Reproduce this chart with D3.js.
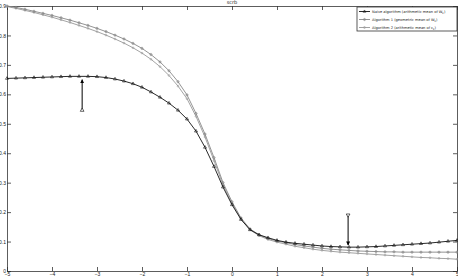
<!DOCTYPE html>
<html>
<head>
<meta charset="utf-8">
<script src="https://cdn.jsdelivr.net/npm/d3@7"></script>
<style>
  body { margin: 0; background: #fff; }
  svg { display: block; font-family: "DejaVu Sans", sans-serif; }
  .axis path, .axis line { stroke: #333; stroke-width: 0.8; }
  .axis text { font-size: 5px; fill: #222; }
</style>
</head>
<body>
<div id="chart"></div>
<script>
// sample positions along x
var xs = [-5, -4.8, -4.6, -4.4, -4.2, -4, -3.8, -3.6, -3.4, -3.2, -3, -2.8, -2.6, -2.4, -2.2, -2,
  -1.8, -1.6, -1.4, -1.2, -1, -0.8, -0.6, -0.4, -0.2, 0, 0.2, 0.4, 0.6, 0.8, 1, 1.2, 1.4, 1.6, 1.8, 2,
  2.2, 2.4, 2.6, 2.8, 3, 3.2, 3.4, 3.6, 3.8, 4, 4.2, 4.4, 4.6, 4.8, 5];

var naive = [0.654, 0.655, 0.656, 0.657, 0.658, 0.659, 0.660, 0.661, 0.661, 0.661, 0.660, 0.657, 0.652,
  0.645, 0.636, 0.624, 0.608, 0.590, 0.570, 0.546, 0.516, 0.475, 0.420, 0.355, 0.285, 0.225, 0.175,
  0.140, 0.123, 0.113, 0.104, 0.098, 0.094, 0.091, 0.088, 0.085, 0.083, 0.082, 0.081, 0.081, 0.082,
  0.083, 0.085, 0.087, 0.089, 0.091, 0.093, 0.095, 0.098, 0.101, 0.104];

var alg1 = [0.900, 0.895, 0.889, 0.882, 0.875, 0.868, 0.860, 0.852, 0.843, 0.834, 0.824, 0.813, 0.801,
  0.788, 0.773, 0.756, 0.735, 0.710, 0.680, 0.643, 0.598, 0.535, 0.465, 0.385, 0.300, 0.235, 0.180,
  0.143, 0.123, 0.110, 0.102, 0.096, 0.090, 0.085, 0.081, 0.077, 0.074, 0.072, 0.070, 0.068, 0.067,
  0.066, 0.065, 0.065, 0.064, 0.064, 0.064, 0.064, 0.064, 0.064, 0.064];

var alg2 = [0.898, 0.892, 0.885, 0.878, 0.870, 0.862, 0.853, 0.844, 0.834, 0.824, 0.813, 0.801, 0.788,
  0.774, 0.758, 0.740, 0.719, 0.694, 0.664, 0.628, 0.585, 0.525, 0.455, 0.375, 0.292, 0.230, 0.177,
  0.140, 0.120, 0.107, 0.098, 0.091, 0.084, 0.079, 0.074, 0.070, 0.067, 0.064, 0.062, 0.060, 0.058,
  0.056, 0.054, 0.052, 0.050, 0.048, 0.046, 0.045, 0.043, 0.042, 0.040];

var xTicks = [-5, -4, -3, -2, -1, 0, 1, 2, 3, 4, 5];
var yTicks = [0, 0.1, 0.2, 0.3, 0.4, 0.5, 0.6, 0.7, 0.8, 0.9];

// annotation arrows: [x, from, to]
var arrows = [[-3.33, 0.546, 0.650], [2.58, 0.19, 0.088]];

var W = 458, H = 277;
var svg = d3.select("#chart").append("svg").attr("width", W).attr("height", H);

var x = d3.scaleLinear().domain([-5, 5]).range([7, 457]);
var y = d3.scaleLinear().domain([0, 0.9]).range([271, 6]);

// axes, MATLAB style: ticks pointing in, box all round
svg.append("g").attr("class", "axis").attr("transform", "translate(0,271)")
  .call(d3.axisBottom(x).tickValues(xTicks).tickSize(-4).tickPadding(1).tickFormat(d3.format("d")));
svg.append("g").attr("class", "axis").attr("transform", "translate(0,6)")
  .call(d3.axisTop(x).tickValues(xTicks).tickSize(-4).tickFormat(""));
svg.append("g").attr("class", "axis").attr("transform", "translate(7,0)")
  .call(d3.axisLeft(y).tickValues(yTicks).tickSize(-4).tickPadding(1)
    .tickFormat(function(d) { return d === 0 ? "0" : d3.format(".1f")(d); }));
svg.append("g").attr("class", "axis").attr("transform", "translate(457,0)")
  .call(d3.axisRight(y).tickValues(yTicks).tickSize(-4).tickFormat(""));
svg.selectAll(".axis .domain").attr("stroke", "#333");

svg.append("text").attr("x", x(0)).attr("y", 4).attr("text-anchor", "middle")
  .style("font-size", "5px").attr("fill", "#222").text("scrb");

var line = d3.line().x(function(d) { return x(d[0]); }).y(function(d) { return y(d[1]); });

function series(vals, color, symbol, size) {
  var pts = xs.map(function(v, i) { return [v, vals[i]]; });
  svg.append("path").datum(pts).attr("d", line)
    .attr("fill", "none").attr("stroke", color).attr("stroke-width", 0.9);
  svg.append("g").selectAll("path").data(pts).enter().append("path")
    .attr("transform", function(d) { return "translate(" + x(d[0]) + "," + y(d[1]) + ")"; })
    .attr("d", d3.symbol().type(symbol).size(size))
    .attr("fill", "none").attr("stroke", color).attr("stroke-width", 0.6);
}

series(alg2, "#999", d3.symbolCircle, 2.5);
series(alg1, "#888", d3.symbolCross, 3);
series(naive, "#111", d3.symbolTriangle, 4);

// arrows
svg.append("defs").append("marker").attr("id", "head")
  .attr("viewBox", "0 0 10 10").attr("refX", 9).attr("refY", 5)
  .attr("markerWidth", 4).attr("markerHeight", 4).attr("orient", "auto")
  .append("path").attr("d", "M0,0L10,5L0,10z").attr("fill", "#000");

arrows.forEach(function(a) {
  svg.append("line").attr("x1", x(a[0])).attr("x2", x(a[0]))
    .attr("y1", y(a[1])).attr("y2", y(a[2]))
    .attr("stroke", "#000").attr("stroke-width", 1).attr("marker-end", "url(#head)");
  svg.append("path")
    .attr("transform", "translate(" + x(a[0]) + "," + y(a[1]) + ")" + (a[2] < a[1] ? " rotate(180)" : ""))
    .attr("d", d3.symbol().type(d3.symbolTriangle).size(6))
    .attr("fill", "#fff").attr("stroke", "#000").attr("stroke-width", 0.6);
});

// legend
var lg = svg.append("g").attr("transform", "translate(357,7)");
lg.append("rect").attr("width", 100).attr("height", 24)
  .attr("fill", "#fff").attr("stroke", "#333").attr("stroke-width", 0.8);
var entries = [
  { t: "Naive algorithm (arithmetic mean of W", s: "k", e: ")", c: "#111", sym: d3.symbolTriangle },
  { t: "Algorithm 1 (geometric mean of W", s: "k", e: ")", c: "#888", sym: d3.symbolCross },
  { t: "Algorithm 2 (arithmetic mean of c", s: "k", e: ")", c: "#999", sym: d3.symbolCircle }
];
entries.forEach(function(e, i) {
  var yy = 4.5 + i * 8;
  lg.append("line").attr("x1", 2).attr("x2", 13).attr("y1", yy).attr("y2", yy)
    .attr("stroke", e.c).attr("stroke-width", 0.9);
  lg.append("path").attr("transform", "translate(7.5," + yy + ")")
    .attr("d", d3.symbol().type(e.sym).size(3)).attr("fill", "none")
    .attr("stroke", e.c).attr("stroke-width", 0.6);
  var tx = lg.append("text").attr("x", 15).attr("y", yy + 1.3)
    .style("font-size", "3.6px").attr("fill", "#222");
  tx.append("tspan").text(e.t);
  tx.append("tspan").attr("dy", 0.8).style("font-size", "2.6px").text(e.s);
  tx.append("tspan").attr("dy", -0.8).text(e.e);
});
</script>
</body>
</html>
